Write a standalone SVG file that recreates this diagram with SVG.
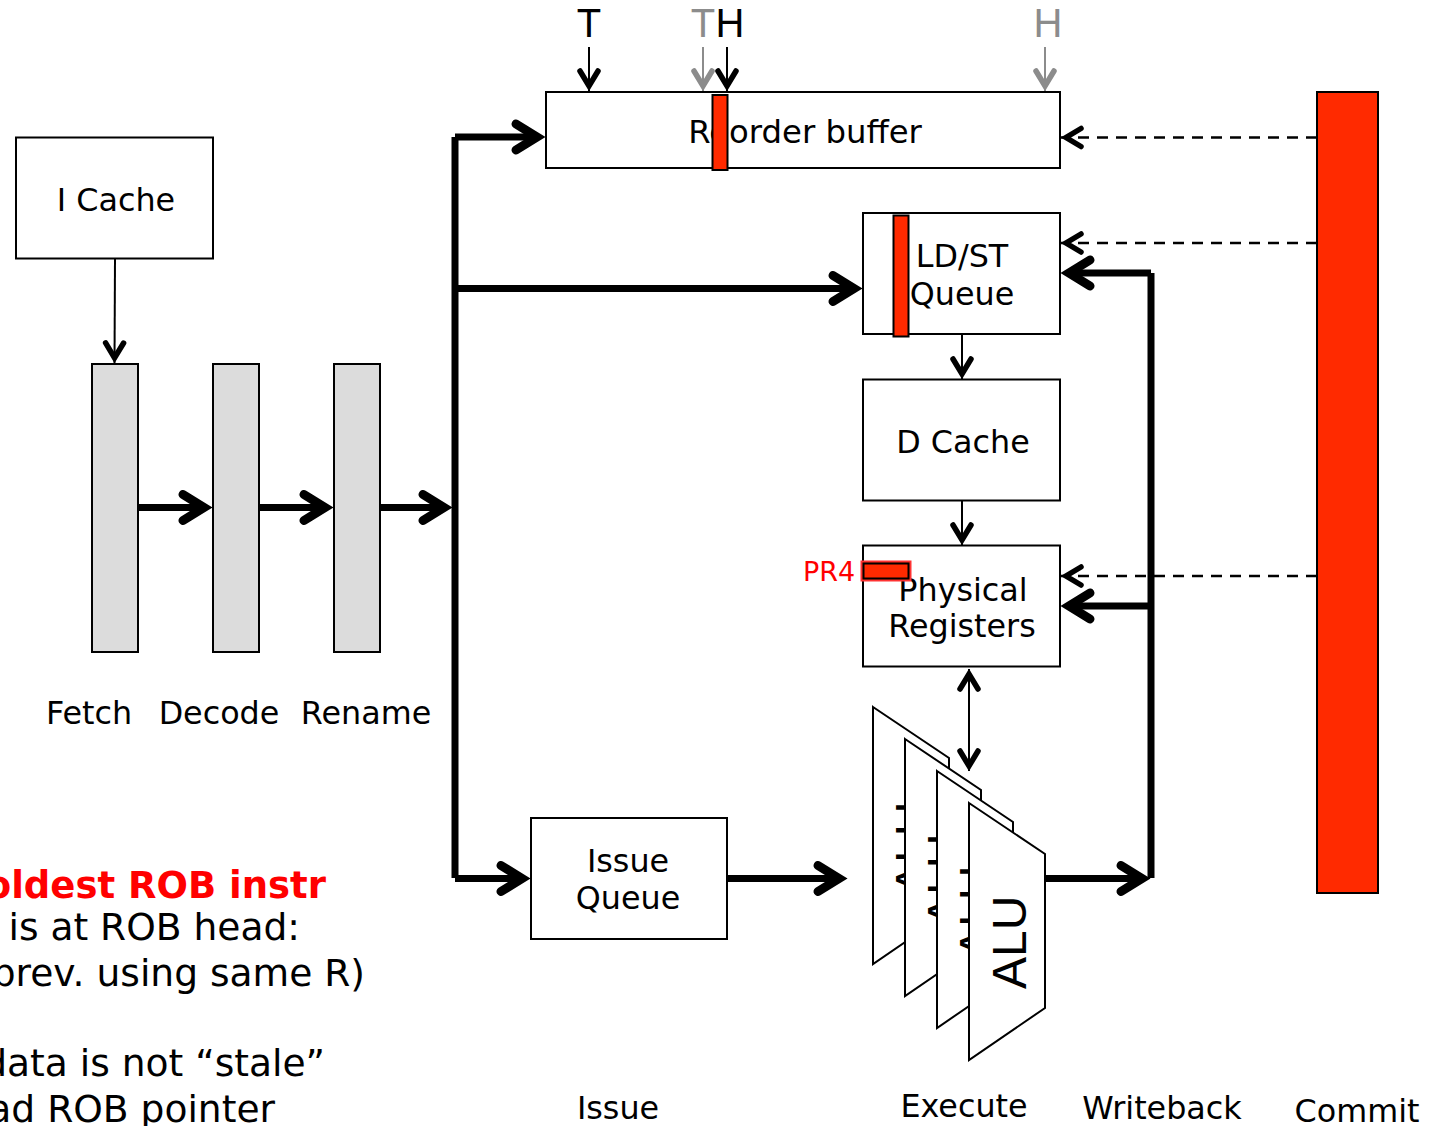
<svg xmlns="http://www.w3.org/2000/svg" width="1437" height="1126" viewBox="0 0 1437 1126">
<style>
text{font-family:"DejaVu Sans",Verdana,sans-serif;font-size:31.800px;fill:#000}
.c{text-anchor:middle}
.p{font-family:"Liberation Sans",Arial,sans-serif;font-size:40px}
.alu{font-family:"Liberation Sans",Arial,sans-serif;font-size:48px}
.n{font-size:37.600px;text-anchor:end}
.b{fill:#fff;stroke:#000;stroke-width:2}
.g{fill:#dcdcdc;stroke:#000;stroke-width:2}
.r{fill:#ff2a00;stroke:#000;stroke-width:2}
.thin{fill:none;stroke:#000;stroke-width:2;marker-end:url(#a)}
.gray{fill:none;stroke:#8c8c8c;stroke-width:2;marker-end:url(#ag)}
.both{fill:none;stroke:#000;stroke-width:2;marker-end:url(#a);marker-start:url(#as)}
.thick{fill:none;stroke:#000;stroke-width:7;marker-end:url(#t)}
.bus{fill:none;stroke:#000;stroke-width:7}
.dash{fill:none;stroke:#000;stroke-width:2.500;stroke-dasharray:11 8;marker-end:url(#a)}
</style>
<defs>
<marker id="a" markerUnits="userSpaceOnUse" markerWidth="32" markerHeight="30" refX="26" refY="15" orient="auto"><path d="M6 6L21 15L6 24" fill="none" stroke="#000" stroke-width="5.500" stroke-linecap="round"/></marker>
<marker id="as" markerUnits="userSpaceOnUse" markerWidth="32" markerHeight="30" refX="6" refY="15" orient="auto"><path d="M26 6L11 15L26 24" fill="none" stroke="#000" stroke-width="5.500" stroke-linecap="round"/></marker>
<marker id="ag" markerUnits="userSpaceOnUse" markerWidth="32" markerHeight="30" refX="26" refY="15" orient="auto"><path d="M6 6L21 15L6 24" fill="none" stroke="#8c8c8c" stroke-width="5.500" stroke-linecap="round"/></marker>
<marker id="t" markerUnits="userSpaceOnUse" markerWidth="50" markerHeight="44" refX="37" refY="22" orient="auto"><path d="M14 9L35 22L14 35" fill="none" stroke="#000" stroke-width="9" stroke-linecap="round"/></marker>
</defs>
<g id="connectors">
<path class="thin" d="M115 259L114.500 363"/>
<path class="thick" d="M138 507.500H206"/>
<path class="thick" d="M259 507.500H327"/>
<path class="thick" d="M380 507.500H446"/>
<path class="bus" d="M455 137V878"/>
<path class="thick" d="M455 137H539"/>
<path class="thick" d="M455 288.500H856"/>
<path class="thick" d="M455 878.500H524"/>
<path class="thick" d="M727 878.500H841"/>
<path class="thick" d="M1045 878.500H1144"/>
<path class="bus" d="M1151 273V878"/>
<path class="thick" d="M1151 273H1067"/>
<path class="thick" d="M1151 606H1067"/>
<path class="thin" d="M962 334V379"/>
<path class="thin" d="M962 500V545"/>
<path class="both" d="M969 669V771"/>
<path class="dash" d="M1317 137.500H1061"/>
<path class="dash" d="M1317 243H1061"/>
<path class="dash" d="M1317 576H1061"/>
<path class="thin" d="M589 47V91"/>
<path class="gray" d="M703 47V91"/>
<path class="thin" d="M727 47V91"/>
<path class="gray" d="M1045 47V91"/>
</g>
<g id="pointer-T"><text class="c p" x="589" y="37">T</text></g>
<g id="pointer-T2"><text class="c p" x="703" y="37" style="fill:#8c8c8c">T</text></g>
<g id="pointer-H"><text class="c p" x="730" y="37">H</text></g>
<g id="pointer-H2"><text class="c p" x="1048" y="37" style="fill:#8c8c8c">H</text></g>
<g id="rob"><rect class="b" x="546" y="92" width="514" height="76"/><text class="c" x="805" y="143" style="font-size:32.300px">Reorder buffer</text><rect class="r" x="712.500" y="95" width="15" height="75"/></g>
<g id="icache"><rect class="b" x="16" y="137.500" width="197" height="121"/><text class="c" x="116" y="211">I Cache</text></g>
<g id="fetch"><rect class="g" x="92" y="364" width="46" height="288"/><text class="c" x="89" y="724">Fetch</text></g>
<g id="decode"><rect class="g" x="213" y="364" width="46" height="288"/><text class="c" x="219" y="724">Decode</text></g>
<g id="rename"><rect class="g" x="334" y="364" width="46" height="288"/><text class="c" x="366" y="724">Rename</text></g>
<g id="lsq"><rect class="b" x="863" y="213" width="197" height="121"/><text class="c" x="962" y="267">LD/ST</text><text class="c" x="962" y="305">Queue</text><rect class="r" x="893.500" y="215.500" width="15" height="121"/></g>
<g id="dcache"><rect class="b" x="863" y="379.500" width="197" height="121"/><text class="c" x="963" y="453">D Cache</text></g>
<g id="regs"><rect class="b" x="863" y="545.500" width="197" height="121"/><text class="c" x="963" y="601">Physical</text><text class="c" x="962" y="637">Registers</text><rect x="861.500" y="561.500" width="49" height="19" fill="#ff2a00" stroke="#f33" stroke-width="2"/><rect x="863.500" y="563.500" width="45" height="15" fill="#ff2a00" stroke="#000" stroke-width="2"/><text x="829" y="581" class="c" style="font-size:27px;fill:#f00">PR4</text></g>
<g id="issueq"><rect class="b" x="531" y="818" width="196" height="121"/><text class="c" x="628" y="872">Issue</text><text class="c" x="628" y="909">Queue</text></g>
<g id="alu1"><path class="b" d="M873 707L949 758V912L873 964Z"/><text class="alu" transform="translate(929 895) rotate(-90)">ALU</text></g>
<g id="alu2"><path class="b" d="M905 739L981 790V944L905 996Z"/><text class="alu" transform="translate(961 927) rotate(-90)">ALU</text></g>
<g id="alu3"><path class="b" d="M937 771L1013 822V976L937 1028Z"/><text class="alu" transform="translate(993 959) rotate(-90)">ALU</text></g>
<g id="alu4"><path class="b" d="M969 803L1045 854V1008L969 1060Z"/><text class="alu" transform="translate(1026 989) rotate(-90)">ALU</text></g>
<g id="commit"><rect class="r" x="1317" y="92" width="61" height="801"/></g>
<g id="labels">
<text class="c" x="618" y="1119">Issue</text>
<text class="c" x="964" y="1117">Execute</text>
<text class="c" x="1162" y="1119">Writeback</text>
<text class="c" x="1357" y="1122">Commit</text>
<text x="326" y="898" style="font-weight:bold;fill:#f00;font-size:37px;text-anchor:end">oldest ROB instr</text>
<text class="n" x="300" y="940">is at ROB head:</text>
<text class="n" x="365" y="986">prev. using same R)</text>
<text class="n" x="325" y="1076">data is not “stale”</text>
<text class="n" x="275" y="1122">ad ROB pointer</text>
</g>
</svg>
